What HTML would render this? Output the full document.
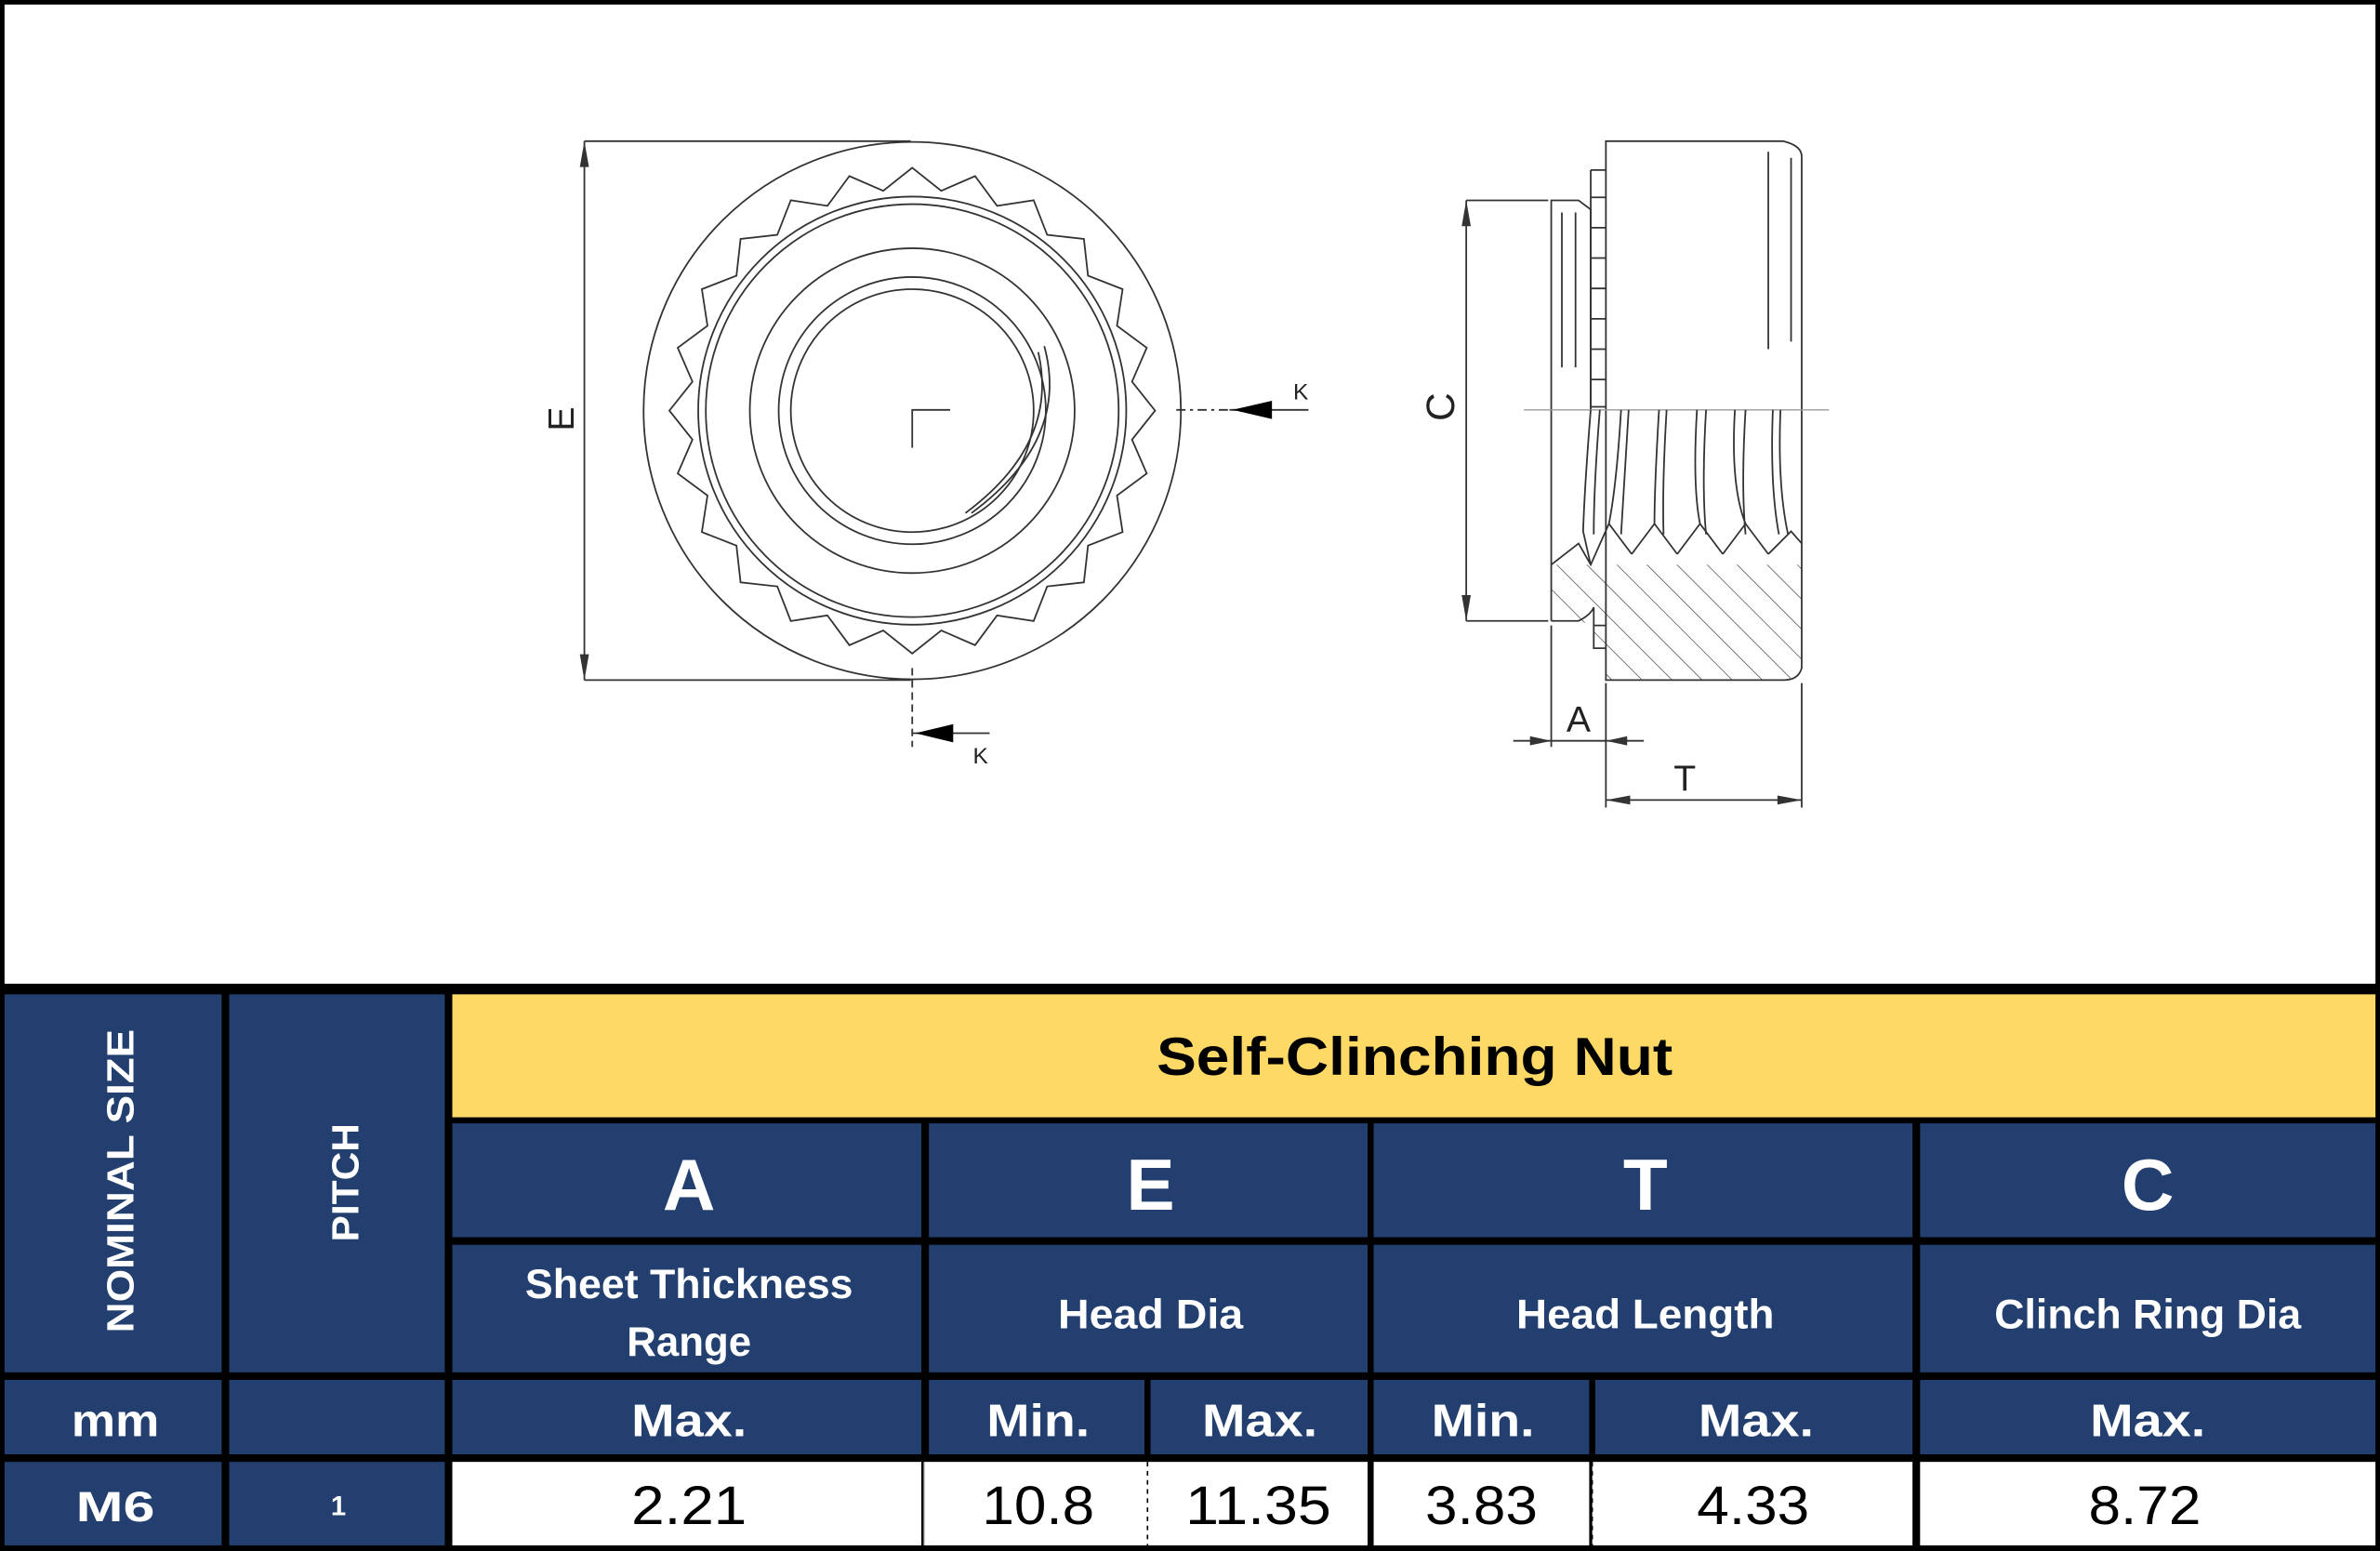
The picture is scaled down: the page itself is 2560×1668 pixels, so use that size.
<!DOCTYPE html>
<html><head><meta charset="utf-8"><style>
html,body{margin:0;padding:0;background:#fff;}
svg{display:block;}
text{font-family:"Liberation Sans",sans-serif;}
</style></head><body>
<svg width="2560" height="1668" viewBox="0 0 1568 1021.7" preserveAspectRatio="none" xmlns="http://www.w3.org/2000/svg">
<defs>
<pattern id="hat" width="14" height="14" patternUnits="userSpaceOnUse" patternTransform="rotate(-45)">
<line x1="0" y1="0" x2="0" y2="14" stroke="#333" stroke-width="0.8"/>
</pattern>
<clipPath id="hc"><path d="M1022,372 L1040,360 L1048,372 L1060,345 L1075,365 L1090,345 L1105,365 L1120,345 L1135,365 L1150,345 L1165,365 L1180,350 L1187,358 L1187,440 Q1185,448 1175,448 L1058,448 L1058,427 L1050,427 L1050,412 L1040,409 L1022,409 Z"/></clipPath>
</defs>
<rect x="0" y="0" width="1568" height="1021.7" fill="#000"/>
<rect x="3" y="3" width="1562" height="645" fill="#fff"/>

<!-- FRONT VIEW -->
<g fill="none" stroke="#333" stroke-width="1.1">
<circle cx="601" cy="270.5" r="177"/>
<polygon id="serr" points=""/>
<circle cx="601" cy="270.5" r="141"/>
<circle cx="601" cy="270.5" r="136"/>
<circle cx="601" cy="270.5" r="107"/>
<circle cx="601" cy="270.5" r="88"/>
<circle cx="601" cy="270.5" r="80"/>
<path d="M688,228 Q705,290 640,338"/>
<path d="M684,232 Q698,292 636,338"/>
<path d="M601,295 L601,270 L626,270"/>
<!-- E dim -->
<line x1="385" y1="93" x2="600" y2="93"/>
<line x1="385" y1="448" x2="600" y2="448"/>
<line x1="385" y1="93" x2="385" y2="448"/>
<line x1="601" y1="440" x2="601" y2="492" stroke-dasharray="5,3"/>
<line x1="775" y1="270" x2="830" y2="270" stroke-dasharray="6,3,2,3"/>
<line x1="810" y1="270" x2="862" y2="270"/>
<line x1="601" y1="483" x2="652" y2="483"/>
</g>
<polygon points="385,93 382,110 388,110" fill="#333"/>
<polygon points="385,448 382,431 388,431" fill="#333"/>
<polygon points="812,270 838,264 838,276" fill="#000"/>
<polygon points="603,483 628,477 628,489" fill="#000"/>
<text x="0" y="0" transform="translate(378,276) rotate(-90)" font-size="24" fill="#222" text-anchor="middle">E</text>
<text x="852" y="263" font-size="15" fill="#222">K</text>
<text x="641" y="503" font-size="15" fill="#222">K</text>

<!-- SIDE VIEW -->
<g fill="none" stroke="#333" stroke-width="1.1">
<rect x="1022" y="372" width="165" height="76" fill="url(#hat)" stroke="none" clip-path="url(#hc)"/>
<path d="M1058,448 L1058,93 L1175,93 Q1187,96 1187,103 L1187,440 Q1185,448 1175,448 Z"/>
<line x1="1165" y1="100" x2="1165" y2="230"/>
<line x1="1180" y1="104" x2="1180" y2="225"/>
<path d="M1022,409 L1022,132 L1040,132 L1048,138 L1048,270"/>
<line x1="1029" y1="140" x2="1029" y2="242"/>
<line x1="1038" y1="140" x2="1038" y2="242"/>
<path d="M1048,112 L1058,112 M1048,112 L1048,270 M1048,130 L1058,130 M1048,150 L1058,150 M1048,170 L1058,170 M1048,190 L1058,190 M1048,210 L1058,210 M1048,230 L1058,230 M1048,250 L1058,250 M1048,268 L1058,268"/>
<line x1="1004" y1="270" x2="1205" y2="270" stroke="#999" stroke-width="0.8"/>
<path d="M1048,270 Q1044,320 1043,350 L1048,372 M1054,270 Q1050,320 1050,352 M1068,270 Q1065,320 1060,345 L1075,365 M1073,270 Q1070,320 1068,352 M1093,270 Q1090,320 1090,345 L1105,365 M1098,270 Q1095,320 1096,352 M1118,270 Q1115,320 1120,345 L1135,365 M1124,270 Q1121,320 1124,352 M1143,270 Q1140,320 1150,345 L1165,365 M1150,270 Q1147,320 1150,352 M1168,270 Q1166,320 1172,352 M1173,270 Q1171,320 1178,352"/>
<path d="M1022,372 L1040,358 L1048,372 L1060,345 M1075,365 L1090,345 M1105,365 L1120,345 M1135,365 L1150,345 M1165,365 L1180,350 L1187,358"/>
<path d="M1022,409 L1040,409 Q1048,405 1050,400 L1050,427 L1058,427 M1050,412 L1058,412"/>
<!-- dims -->
<line x1="966" y1="132" x2="1020" y2="132"/>
<line x1="966" y1="409" x2="1020" y2="409"/>
<line x1="966" y1="132" x2="966" y2="409"/>
<line x1="1022" y1="412" x2="1022" y2="492"/>
<line x1="1058" y1="450" x2="1058" y2="532"/>
<line x1="1187" y1="450" x2="1187" y2="532"/>
<line x1="997" y1="488" x2="1083" y2="488"/>
<line x1="1058" y1="527" x2="1187" y2="527"/>
</g>
<polygon points="966,132 963,149 969,149" fill="#333"/>
<polygon points="966,409 963,392 969,392" fill="#333"/>
<polygon points="1022,488 1008,485 1008,491" fill="#333"/>
<polygon points="1058,488 1072,485 1072,491" fill="#333"/>
<polygon points="1058,527 1074,524 1074,530" fill="#333"/>
<polygon points="1187,527 1171,524 1171,530" fill="#333"/>
<text x="0" y="0" transform="translate(958,268) rotate(-90)" font-size="26" fill="#222" text-anchor="middle">C</text>
<text x="1040" y="482" font-size="24" fill="#222" text-anchor="middle">A</text>
<text x="1110" y="521" font-size="24" fill="#222" text-anchor="middle">T</text>

<!-- TABLE -->
<g fill="#223F6F">
<rect x="3" y="655" width="143" height="249"/>
<rect x="151" y="655" width="142" height="249"/>
<rect x="298" y="740" width="309" height="75"/>
<rect x="612" y="740" width="289" height="75"/>
<rect x="905" y="740" width="355" height="75"/>
<rect x="1265" y="740" width="300" height="75"/>
<rect x="298" y="820" width="309" height="84"/>
<rect x="612" y="820" width="289" height="84"/>
<rect x="905" y="820" width="355" height="84"/>
<rect x="1265" y="820" width="300" height="84"/>
<rect x="3" y="909" width="143" height="49"/>
<rect x="151" y="909" width="142" height="49"/>
<rect x="298" y="909" width="309" height="49"/>
<rect x="612" y="909" width="142" height="49"/>
<rect x="758" y="909" width="143" height="49"/>
<rect x="905" y="909" width="142" height="49"/>
<rect x="1051" y="909" width="209" height="49"/>
<rect x="1265" y="909" width="300" height="49"/>
<rect x="3" y="963" width="143" height="55"/>
<rect x="151" y="963" width="142" height="55"/>
</g>
<rect x="298" y="655" width="1267" height="81" fill="#FFD966"/>
<g fill="#fff">
<rect x="298" y="963" width="309" height="55"/>
<rect x="609" y="963" width="292" height="55"/>
<rect x="905" y="963" width="142" height="55"/>
<rect x="1049" y="963" width="211" height="55"/>
<rect x="1265" y="963" width="300" height="55"/>
</g>
<line x1="756" y1="963" x2="756" y2="1018" stroke="#000" stroke-width="1" stroke-dasharray="3,3"/>
<line x1="1049" y1="963" x2="1049" y2="1018" stroke="#000" stroke-width="1" stroke-dasharray="3,3"/>
<line x1="609" y1="963" x2="609" y2="1018" stroke="#ccc" stroke-width="1"/>

<g font-weight="bold" fill="#fff" text-anchor="middle">
<text transform="translate(88,778) rotate(-90)" font-size="25" textLength="200" lengthAdjust="spacingAndGlyphs">NOMINAL SIZE</text>
<text transform="translate(236,779) rotate(-90)" font-size="25" textLength="78" lengthAdjust="spacingAndGlyphs">PITCH</text>
<text x="932" y="708" font-size="35" fill="#000" textLength="340" lengthAdjust="spacingAndGlyphs">Self-Clinching Nut</text>
<text x="454" y="797" font-size="48">A</text>
<text x="758" y="797" font-size="48">E</text>
<text x="1084" y="797" font-size="48">T</text>
<text x="1415" y="797" font-size="48">C</text>
<text x="454" y="855" font-size="27" textLength="216" lengthAdjust="spacingAndGlyphs">Sheet Thickness</text>
<text x="454" y="893" font-size="27" textLength="82" lengthAdjust="spacingAndGlyphs">Range</text>
<text x="758" y="875" font-size="27" textLength="122" lengthAdjust="spacingAndGlyphs">Head Dia</text>
<text x="1084" y="875" font-size="27" textLength="170" lengthAdjust="spacingAndGlyphs">Head Length</text>
<text x="1415" y="875" font-size="27" textLength="202" lengthAdjust="spacingAndGlyphs">Clinch Ring Dia</text>
<text x="76" y="946" font-size="30" textLength="58" lengthAdjust="spacingAndGlyphs">mm</text>
<text x="454" y="946" font-size="30" textLength="76" lengthAdjust="spacingAndGlyphs">Max.</text>
<text x="684" y="946" font-size="30" textLength="68" lengthAdjust="spacingAndGlyphs">Min.</text>
<text x="830" y="946" font-size="30" textLength="76" lengthAdjust="spacingAndGlyphs">Max.</text>
<text x="977" y="946" font-size="30" textLength="68" lengthAdjust="spacingAndGlyphs">Min.</text>
<text x="1157" y="946" font-size="30" textLength="76" lengthAdjust="spacingAndGlyphs">Max.</text>
<text x="1415" y="946" font-size="30" textLength="76" lengthAdjust="spacingAndGlyphs">Max.</text>
<text x="76" y="1002" font-size="28" textLength="52" lengthAdjust="spacingAndGlyphs">M6</text>
<text x="223" y="998" font-size="18">1</text>
</g>
<g fill="#000" text-anchor="middle" font-size="36">
<text x="454" y="1004" textLength="76" lengthAdjust="spacingAndGlyphs">2.21</text>
<text x="684" y="1004" textLength="74" lengthAdjust="spacingAndGlyphs">10.8</text>
<text x="829" y="1004" textLength="96" lengthAdjust="spacingAndGlyphs">11.35</text>
<text x="976" y="1004" textLength="74" lengthAdjust="spacingAndGlyphs">3.83</text>
<text x="1155" y="1004" textLength="74" lengthAdjust="spacingAndGlyphs">4.33</text>
<text x="1413" y="1004" textLength="74" lengthAdjust="spacingAndGlyphs">8.72</text>
</g>
</svg>
<script>
(function(){
var cx=601,cy=270.5,n=24,pts=[];
for(var i=0;i<n;i++){
 var a0=(i/n)*2*Math.PI - Math.PI/2;
 var a1=((i+0.5)/n)*2*Math.PI - Math.PI/2;
 pts.push((cx+160*Math.cos(a0)).toFixed(1)+","+(cy+160*Math.sin(a0)).toFixed(1));
 pts.push((cx+146*Math.cos(a1)).toFixed(1)+","+(cy+146*Math.sin(a1)).toFixed(1));
}
document.getElementById("serr").setAttribute("points",pts.join(" "));
})();
</script>
</body></html>
